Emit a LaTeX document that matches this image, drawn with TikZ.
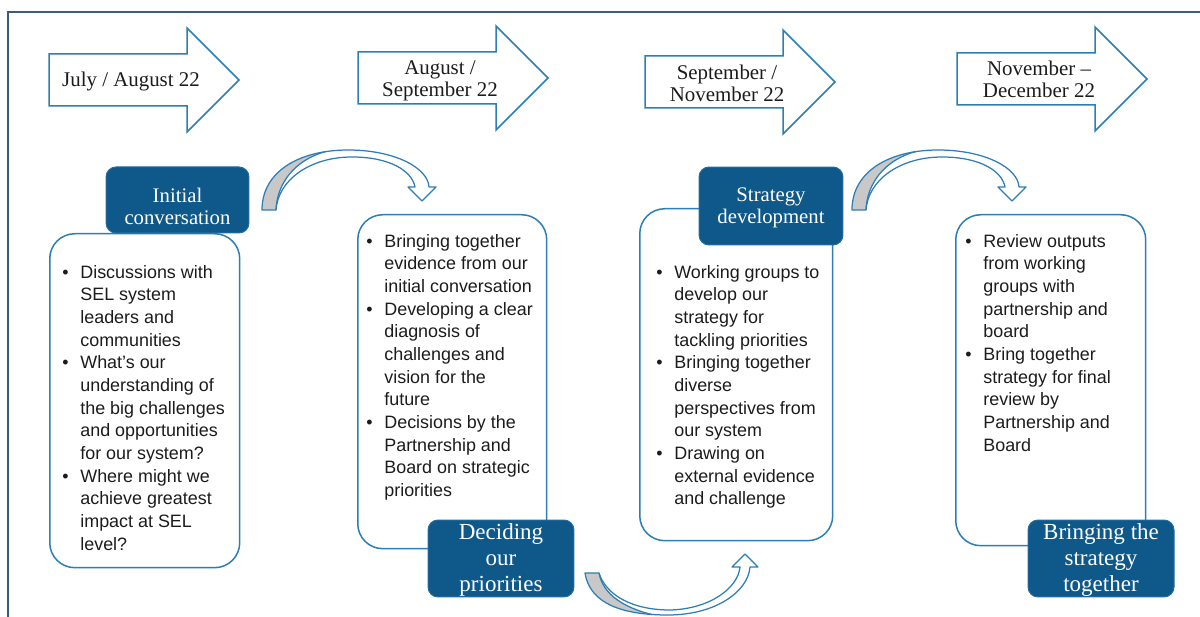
\documentclass[tikz,border=0pt]{standalone}
\usepackage{fontspec}
\setmainfont{Liberation Serif}
\setsansfont{Liberation Sans}
\usepackage{tikz}
\usepackage{xcolor}
\definecolor{dfframe}{RGB}{62,92,122}
\definecolor{dfline}{RGB}{45,126,182}
\definecolor{dftitle}{RGB}{15,88,138}
\definecolor{dftitleedge}{RGB}{38,108,160}
\definecolor{dfgray}{RGB}{200,200,200}
\definecolor{dftext}{RGB}{28,28,28}
\tikzstyle{stagebox} = [rectangle, rounded corners=0.5cm, draw=dfline, fill=white, line width=0.03cm, inner sep=0pt]
\tikzstyle{titlebox} = [rectangle, rounded corners=0.2cm, draw=dftitleedge, fill=dftitle, line width=0.02cm, inner sep=0pt]
\tikzstyle{titletext} = [text=white, align=center, inner sep=0pt, font={\fontsize{11.8}{12.5}\selectfont}]
\tikzstyle{bigtitle} = [titletext, font={\fontsize{13.1}{14.6}\selectfont}]
\tikzstyle{datearrow} = [draw=dfline, fill=white, line width=0.03cm, line join=miter]
\tikzstyle{datetext} = [align=center, text=dftext, inner sep=0pt, font={\fontsize{11.9}{12.5}\selectfont}]
\tikzstyle{bodytext} = [anchor=north west, inner sep=0pt, text=dftext, font={\sffamily\fontsize{10.2}{12.9}\selectfont}]
\tikzstyle{curvearrow} = [draw=dfline, line width=0.025cm, line join=round]
% arch paths (pixel grid of the page)
\newcommand{\archtop}{(262,210) .. controls (262,171) and (300,150) .. (348,150) .. controls (395,150) and (428,168) .. (429,187) -- (436,187) -- (422,201) -- (408,187) -- (415,187) .. controls (412,171) and (390,157) .. (352,157) .. controls (310,157) and (278,180) .. (276,210) -- cycle}
\newcommand{\archlow}{(585,573) .. controls (590,605) and (625,615) .. (668,615) .. controls (715,615) and (748,592) .. (750,567) -- (758,567) -- (745,554) -- (732,567) -- (740,567) .. controls (738,588) and (710,609) .. (670,610) .. controls (632,610) and (606,595) .. (599,573) -- cycle}

\begin{document}
\begin{tikzpicture}[x=0.02cm, y=-0.02cm]
\useasboundingbox (0,0) rectangle (1200,617);
% frame
\draw[dfframe, line width=0.04cm] (8,617) -- (8,12) -- (1200,12);

% month arrows
\foreach \n/\x/\y/\ty/\txt in {1/49/80/82/{July / August 22}, 2/358/78/81/{August /\\September 22}, 3/645/82/83/{September /\\November 22}, 4/957/79/79/{November --\\December 22}} {
  \draw[datearrow] (\x,\y-26) -- (\x+138,\y-26) -- (\x+138,\y-52) -- (\x+190,\y) -- (\x+138,\y+52) -- (\x+138,\y+26) -- (\x,\y+26) -- cycle;
  \node[datetext] (date\n) at (\x+82,\ty) {\txt};
}

% stage boxes
\node[stagebox, anchor=north west, minimum width=3.8cm, minimum height=6.68cm] (box1) at (49,233) {};
\node[stagebox, anchor=north west, minimum width=3.78cm, minimum height=6.68cm] (box2) at (357,214) {};
\node[stagebox, anchor=north west, minimum width=3.86cm, minimum height=6.64cm] (box3) at (639,208) {};
\node[stagebox, anchor=north west, minimum width=3.8cm, minimum height=6.62cm] (box4) at (955,214) {};

% stage titles
\node[titlebox, minimum width=2.86cm, minimum height=1.32cm] (init) at (177.5,200) {};
\node[titletext] (initlbl) at (177.5,206.5) {Initial\\conversation};
\node[titlebox, minimum width=2.92cm, minimum height=1.54cm] (decide) at (501,558.5) {};
\node[bigtitle] (decidelbl) at (501,560) {Deciding\\our\\priorities};
\node[titlebox, minimum width=2.88cm, minimum height=1.56cm] (strat) at (771,206) {};
\node[titletext] (stratlbl) at (771,208) {Strategy\\development};
\node[titlebox, minimum width=2.92cm, minimum height=1.54cm] (bring) at (1101,558.5) {};
\node[bigtitle] (bringlbl) at (1101,560) {Bringing the\\strategy\\together};

% stage texts
\node[bodytext] (txt1) at (62,262) {\begin{tabular}{@{}p{0.36cm}@{}l@{}}
\textbullet & Discussions with\\
 & SEL system\\
 & leaders and\\
 & communities\\
\textbullet & What's our\\
 & understanding of\\
 & the big challenges\\
 & and opportunities\\
 & for our system?\\
\textbullet & Where might we\\
 & achieve greatest\\
 & impact at SEL\\
 & level?
\end{tabular}};
\node[bodytext] (txt2) at (366,231) {\begin{tabular}{@{}p{0.36cm}@{}l@{}}
\textbullet & Bringing together\\
 & evidence from our\\
 & initial conversation\\
\textbullet & Developing a clear\\
 & diagnosis of\\
 & challenges and\\
 & vision for the\\
 & future\\
\textbullet & Decisions by the\\
 & Partnership and\\
 & Board on strategic\\
 & priorities
\end{tabular}};
\node[bodytext] (txt3) at (656,262) {\begin{tabular}{@{}p{0.36cm}@{}l@{}}
\textbullet & Working groups to\\
 & develop our\\
 & strategy for\\
 & tackling priorities\\
\textbullet & Bringing together\\
 & diverse\\
 & perspectives from\\
 & our system\\
\textbullet & Drawing on\\
 & external evidence\\
 & and challenge
\end{tabular}};
\node[bodytext] (txt4) at (965,231) {\begin{tabular}{@{}p{0.36cm}@{}l@{}}
\textbullet & Review outputs\\
 & from working\\
 & groups with\\
 & partnership and\\
 & board\\
\textbullet & Bring together\\
 & strategy for final\\
 & review by\\
 & Partnership and\\
 & Board
\end{tabular}};

% curved arrows over the top
\foreach \s in {0,590} {
  \begin{scope}[shift={(\s,0)}]
    \fill[white] \archtop;
    \begin{scope}
      \clip \archtop;
      \fill[dfgray] (276,211) .. controls (277,184) and (294,160) .. (326,151) -- (326,140) -- (255,140) -- (255,211) -- cycle;
    \end{scope}
    \draw[curvearrow] \archtop;
    \draw[curvearrow] (276,210) .. controls (277,184) and (294,160) .. (326,151.5);
  \end{scope}
}
% curved arrow under the middle
\fill[white] \archlow;
\begin{scope}
  \clip \archlow;
  \fill[dfgray] (599,572) .. controls (603,595) and (625,608) .. (652,614.5) -- (652,625) -- (575,625) -- (575,572) -- cycle;
\end{scope}
\draw[curvearrow] \archlow;
\draw[curvearrow] (599,573) .. controls (603,595) and (625,608) .. (652,614.5);
\end{tikzpicture}
\end{document}
